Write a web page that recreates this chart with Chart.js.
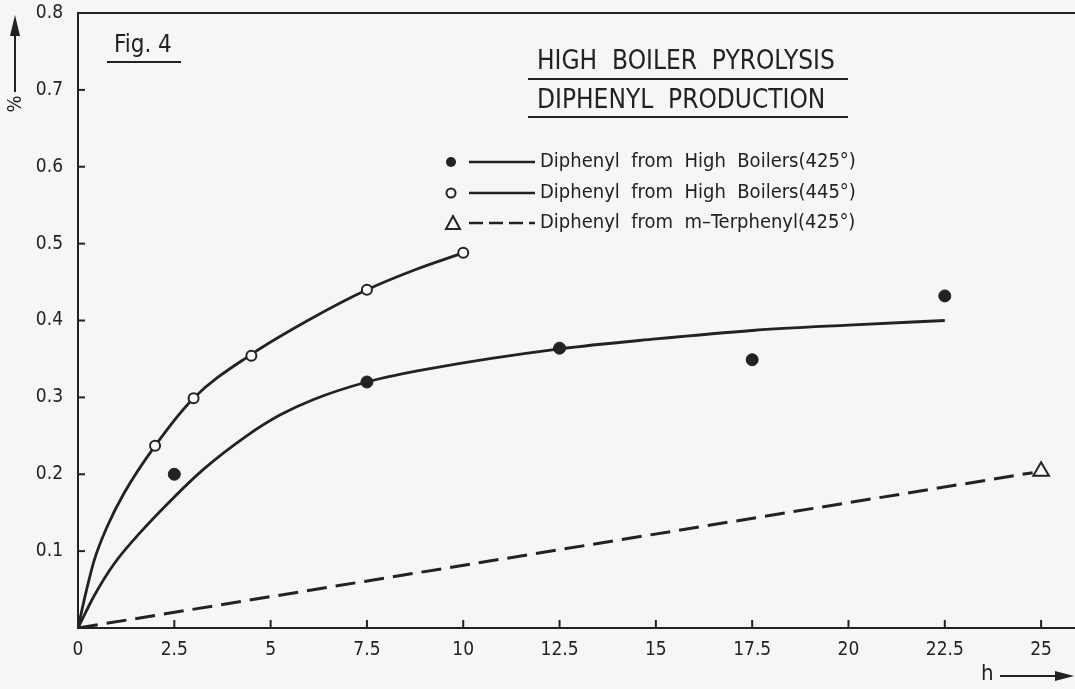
<!DOCTYPE html>
<html>
<head>
<meta charset="utf-8">
<script src="https://cdn.jsdelivr.net/npm/chart.js@4.4.1/dist/chart.umd.min.js"></script>
<style>
  html, body { margin: 0; padding: 0; background: #f6f6f6; }
  #wrap { width: 1075px; height: 689px; }
</style>
</head>
<body>
<div id="wrap"><canvas id="fig4" width="1075" height="689"></canvas></div>
<script>
var hours425 = [2.5, 7.5, 12.5, 17.5, 22.5];
var pct425 = [0.20, 0.32, 0.364, 0.349, 0.432];
var hours445 = [2, 3, 4.5, 7.5, 10];
var pct445 = [0.237, 0.299, 0.354, 0.44, 0.488];
var hoursTerph = [25];
var pctTerph = [0.204];

// hand drawn fit curves (traced)
var curve425X = [0, 0.42, 0.93, 1.63, 2.41, 3.27, 4.38, 5.24, 6.1, 7.5, 9.1, 12.5, 15, 17.5, 20, 22.5];
var curve425Y = [0, 0.042, 0.083, 0.125, 0.166, 0.207, 0.25, 0.277, 0.297, 0.32, 0.337, 0.363, 0.376, 0.387, 0.394, 0.40];
var curve445X = [0, 0.2, 0.42, 0.75, 1.19, 2, 3, 4.5, 6, 7.5, 8.75, 10];
var curve445Y = [0, 0.045, 0.088, 0.131, 0.175, 0.237, 0.299, 0.356, 0.401, 0.44, 0.466, 0.488];
var curveTerphX = [0, 24.78];
var curveTerphY = [0, 0.202];

var xTicks = [0, 2.5, 5, 7.5, 10, 12.5, 15, 17.5, 20, 22.5, 25];
var yTicks = [0, 0.1, 0.2, 0.3, 0.4, 0.5, 0.6, 0.7, 0.8];

var legendLabels = [
    "Diphenyl  from  High  Boilers(425\u00b0)",
    "Diphenyl  from  High  Boilers(445\u00b0)",
    "Diphenyl  from  m\u2013Terphenyl(425\u00b0)"
];
var titleLines = ["HIGH  BOILER  PYROLYSIS", "DIPHENYL  PRODUCTION"];
var figLabel = "Fig. 4";

var ink = "#222";
var font = "'DejaVu Sans Condensed', 'DejaVu Sans', sans-serif";

function pairs(xs, ys) {
    return xs.map(function (x, i) { return {x: x, y: ys[i]}; });
}

function line(ctx, x1, y1, x2, y2) {
    ctx.beginPath();
    ctx.moveTo(x1, y1);
    ctx.lineTo(x2, y2);
    ctx.stroke();
}

// drop the label overflow padding so the plot box fills the page like the scan
function noPad(s) {
    s.paddingTop = 0;
    s.paddingBottom = 0;
    s.paddingLeft = 0;
    s.paddingRight = 0;
}

var decor = {
    id: "decor",
    beforeDraw: function (chart) {
        var ctx = chart.ctx;
        ctx.save();
        ctx.fillStyle = "#f6f6f6";
        ctx.fillRect(0, 0, chart.width, chart.height);
        ctx.restore();
    },
    afterDraw: function (chart) {
        var ctx = chart.ctx;
        var a = chart.chartArea;
        var xs = chart.scales.x, ys = chart.scales.y;
        ctx.save();
        ctx.strokeStyle = ink;
        ctx.fillStyle = ink;
        ctx.lineWidth = 2;

        // top frame line
        line(ctx, a.left, a.top, a.right, a.top);

        // inward tick marks
        xs.ticks.forEach(function (t) {
            if (t.value === 0) return;
            var px = xs.getPixelForValue(t.value);
            line(ctx, px, a.bottom, px, a.bottom - 8);
        });
        ys.ticks.forEach(function (t) {
            if (t.value === 0) return;
            var py = ys.getPixelForValue(t.value);
            line(ctx, a.left, py, a.left + 7, py);
        });

        // Fig. 4
        ctx.textBaseline = "middle";
        ctx.textAlign = "left";
        ctx.font = "24px " + font;
        ctx.fillText(figLabel, 114, 46);
        line(ctx, 107, 62, 181, 62);

        // title block
        ctx.font = "26px " + font;
        ctx.fillText(titleLines[0], 537, 62);
        line(ctx, 528, 79, 848, 79);
        ctx.fillText(titleLines[1], 537, 101);
        line(ctx, 528, 117, 848, 117);

        // legend
        var rows = [162, 193, 223];
        ctx.font = "20px " + font;
        rows.forEach(function (ry, i) {
            ctx.lineWidth = 2.5;
            if (i === 2) ctx.setLineDash([14, 6]);
            line(ctx, 469, ry, 535, ry);
            ctx.setLineDash([]);
            ctx.lineWidth = 2;
            if (i === 0) {
                ctx.beginPath(); ctx.arc(451, ry, 5, 0, Math.PI * 2); ctx.fill();
            } else if (i === 1) {
                ctx.beginPath(); ctx.arc(451, ry, 4.5, 0, Math.PI * 2);
                ctx.fillStyle = "#fff"; ctx.fill(); ctx.fillStyle = ink; ctx.stroke();
            } else {
                ctx.beginPath();
                ctx.moveTo(453, ry - 7); ctx.lineTo(460, ry + 6); ctx.lineTo(446, ry + 6);
                ctx.closePath(); ctx.stroke();
            }
            ctx.fillText(legendLabels[i], 540, ry);
        });

        // y axis label with arrow
        ctx.lineWidth = 2;
        line(ctx, 15, 92, 15, 30);
        ctx.beginPath();
        ctx.moveTo(15, 15); ctx.lineTo(20, 36); ctx.lineTo(10, 36); ctx.closePath(); ctx.fill();
        ctx.save();
        ctx.translate(16, 104);
        ctx.rotate(-Math.PI / 2);
        ctx.textAlign = "center";
        ctx.font = "20px " + font;
        ctx.fillText("%", 0, 0);
        ctx.restore();

        // x axis label with arrow
        ctx.font = "22px " + font;
        ctx.textAlign = "left";
        ctx.fillText("h", 981, 674);
        line(ctx, 1000, 676, 1058, 676);
        ctx.beginPath();
        ctx.moveTo(1074, 676); ctx.lineTo(1055, 671); ctx.lineTo(1055, 681); ctx.closePath(); ctx.fill();

        ctx.restore();
    }
};

var curveStyle = {
    type: "line",
    showLine: true,
    borderColor: ink,
    borderWidth: 2.8,
    pointRadius: 0,
    fill: false,
    cubicInterpolationMode: "monotone",
    order: 2
};

var chart = new Chart(document.getElementById("fig4"), {
    type: "scatter",
    data: {
        datasets: [
            Object.assign({}, curveStyle, {label: "curve 425", data: pairs(curve425X, curve425Y)}),
            Object.assign({}, curveStyle, {label: "curve 445", data: pairs(curve445X, curve445Y)}),
            Object.assign({}, curveStyle, {label: "curve terphenyl", data: pairs(curveTerphX, curveTerphY),
                borderDash: [20, 9], borderWidth: 3, cubicInterpolationMode: "default", tension: 0}),
            {
                label: legendLabels[0],
                data: pairs(hours425, pct425),
                pointRadius: 6, pointBackgroundColor: ink, pointBorderColor: ink, pointBorderWidth: 1,
                order: 0
            },
            {
                label: legendLabels[1],
                data: pairs(hours445, pct445),
                pointRadius: 5, pointBackgroundColor: "#fff", pointBorderColor: ink, pointBorderWidth: 2,
                order: 0
            },
            {
                label: legendLabels[2],
                data: pairs(hoursTerph, pctTerph),
                pointStyle: "triangle", pointRadius: 9, pointBackgroundColor: "#fff",
                pointBorderColor: ink, pointBorderWidth: 2,
                order: 0
            }
        ]
    },
    options: {
        responsive: false,
        animation: false,
        layout: {autoPadding: false, padding: {top: 13, right: 0, left: 0, bottom: 0}},
        plugins: {legend: {display: false}, tooltip: {enabled: false}},
        scales: {
            x: {
                type: "linear",
                min: 0,
                max: 25.88,
                grid: {display: false},
                border: {display: true, color: ink, width: 2},
                afterFit: function (s) { s.height = 61; noPad(s); },
                afterBuildTicks: function (s) {
                    s.ticks = xTicks.map(function (v) { return {value: v}; });
                },
                ticks: {
                    padding: 3,
                    color: ink,
                    font: {family: font, size: 19},
                    maxRotation: 0,
                    autoSkip: false,
                    callback: function (v) { return String(v); }
                }
            },
            y: {
                type: "linear",
                min: 0,
                max: 0.8,
                grid: {display: false},
                border: {display: true, color: ink, width: 2},
                afterFit: function (s) { s.width = 78; noPad(s); },
                afterBuildTicks: function (s) {
                    s.ticks = yTicks.map(function (v) { return {value: v}; });
                },
                ticks: {
                    padding: 7,
                    color: ink,
                    font: {family: font, size: 19},
                    callback: function (v) { return v === 0 ? "" : v.toFixed(1); }
                }
            }
        }
    },
    plugins: [decor]
});
</script>
</body>
</html>
